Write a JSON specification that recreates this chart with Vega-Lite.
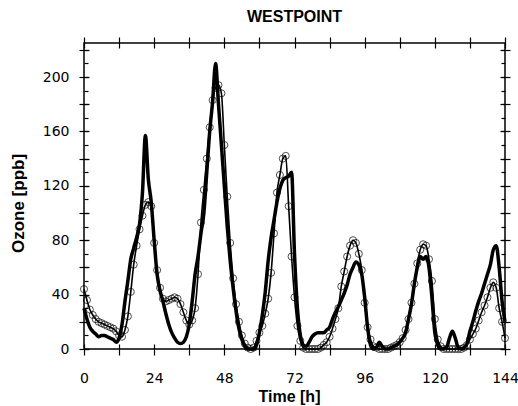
{
  "$schema": "https://vega.github.io/schema/vega-lite/v6.json",
  "width": 421,
  "height": 306,
  "autosize": {"type": "none"},
  "padding": {"left": 84, "top": 43, "right": 13, "bottom": 57},
  "background": "white",
  "title": {"text": "WESTPOINT", "font": "Liberation Sans", "fontSize": 16, "fontWeight": "bold", "anchor": "middle", "offset": 11, "color": "black"},
  "config": {
    "view": {"stroke": "black", "strokeWidth": 1.5},
    "axis": {"domain": false, "grid": false, "tickColor": "black", "tickWidth": 1.2, "labelFont": "DejaVu Sans", "labelFontSize": 14, "labelColor": "black", "labelFlush": false, "labelOverlap": false, "titleFont": "Liberation Sans", "titleFontWeight": "bold", "titleFontSize": 17, "titleColor": "black"}
  },
  "data": {"values": [
    {"t":0,"obs":44,"model":30},{"t":1,"obs":36,"model":22},{"t":2,"obs":29,"model":16},{"t":3,"obs":25,"model":13},{"t":4,"obs":22,"model":11},{"t":5,"obs":20,"model":9},{"t":6,"obs":19,"model":10},{"t":7,"obs":18,"model":10},{"t":8,"obs":17,"model":9},{"t":9,"obs":16,"model":8},{"t":10,"obs":15,"model":7},{"t":11,"obs":13,"model":5},{"t":12,"obs":10,"model":8},{"t":13,"obs":9,"model":18},{"t":14,"obs":14,"model":35},{"t":15,"obs":24,"model":50},{"t":16,"obs":42,"model":66},{"t":17,"obs":62,"model":74},{"t":18,"obs":76,"model":82},{"t":19,"obs":88,"model":92},{"t":20,"obs":98,"model":115},{"t":21,"obs":106,"model":157},{"t":22,"obs":108,"model":125},{"t":23,"obs":105,"model":108},{"t":24,"obs":78,"model":80},
    {"t":25,"obs":58,"model":55},{"t":26,"obs":45,"model":43},{"t":27,"obs":37,"model":35},{"t":28,"obs":35,"model":26},{"t":29,"obs":36,"model":18},{"t":30,"obs":37,"model":12},{"t":31,"obs":38,"model":8},{"t":32,"obs":37,"model":5},{"t":33,"obs":33,"model":4},{"t":34,"obs":27,"model":5},{"t":35,"obs":21,"model":9},{"t":36,"obs":18,"model":18},{"t":37,"obs":21,"model":35},{"t":38,"obs":30,"model":55},{"t":39,"obs":55,"model":68},{"t":40,"obs":93,"model":85},{"t":41,"obs":117,"model":100},{"t":42,"obs":140,"model":130},{"t":43,"obs":163,"model":160},{"t":44,"obs":183,"model":182},{"t":45,"obs":192,"model":210},{"t":46,"obs":194,"model":180},{"t":47,"obs":188,"model":150},{"t":48,"obs":150,"model":120},
    {"t":49,"obs":112,"model":90},{"t":50,"obs":78,"model":65},{"t":51,"obs":52,"model":45},{"t":52,"obs":33,"model":28},{"t":53,"obs":20,"model":15},{"t":54,"obs":10,"model":7},{"t":55,"obs":4,"model":2},{"t":56,"obs":1,"model":0},{"t":57,"obs":0,"model":0},{"t":58,"obs":1,"model":0},{"t":59,"obs":6,"model":3},{"t":60,"obs":12,"model":12},{"t":61,"obs":17,"model":25},{"t":62,"obs":26,"model":42},{"t":63,"obs":37,"model":65},{"t":64,"obs":56,"model":82},{"t":65,"obs":85,"model":95},{"t":66,"obs":115,"model":108},{"t":67,"obs":128,"model":118},{"t":68,"obs":140,"model":124},{"t":69,"obs":142,"model":126},{"t":70,"obs":105,"model":127},{"t":71,"obs":68,"model":130},{"t":72,"obs":38,"model":70},
    {"t":73,"obs":17,"model":30},{"t":74,"obs":6,"model":10},{"t":75,"obs":1,"model":3},{"t":76,"obs":0,"model":2},{"t":77,"obs":0,"model":5},{"t":78,"obs":0,"model":9},{"t":79,"obs":0,"model":11},{"t":80,"obs":0,"model":12},{"t":81,"obs":1,"model":12},{"t":82,"obs":3,"model":12},{"t":83,"obs":5,"model":14},{"t":84,"obs":9,"model":16},{"t":85,"obs":15,"model":22},{"t":86,"obs":22,"model":27},{"t":87,"obs":30,"model":31},{"t":88,"obs":46,"model":36},{"t":89,"obs":57,"model":41},{"t":90,"obs":68,"model":47},{"t":91,"obs":76,"model":55},{"t":92,"obs":80,"model":60},{"t":93,"obs":78,"model":64},{"t":94,"obs":70,"model":62},{"t":95,"obs":58,"model":55},{"t":96,"obs":34,"model":38},
    {"t":97,"obs":16,"model":16},{"t":98,"obs":7,"model":3},{"t":99,"obs":2,"model":0},{"t":100,"obs":1,"model":1},{"t":101,"obs":0,"model":5},{"t":102,"obs":0,"model":2},{"t":103,"obs":0,"model":0},{"t":104,"obs":0,"model":0},{"t":105,"obs":1,"model":1},{"t":106,"obs":2,"model":2},{"t":107,"obs":3,"model":3},{"t":108,"obs":5,"model":5},{"t":109,"obs":8,"model":8},{"t":110,"obs":14,"model":12},{"t":111,"obs":22,"model":22},{"t":112,"obs":34,"model":33},{"t":113,"obs":48,"model":48},{"t":114,"obs":63,"model":60},{"t":115,"obs":73,"model":68},{"t":116,"obs":77,"model":66},{"t":117,"obs":76,"model":68},{"t":118,"obs":66,"model":60},{"t":119,"obs":50,"model":38},{"t":120,"obs":22,"model":12},
    {"t":121,"obs":7,"model":3},{"t":122,"obs":2,"model":0},{"t":123,"obs":0,"model":0},{"t":124,"obs":0,"model":1},{"t":125,"obs":0,"model":8},{"t":126,"obs":0,"model":13},{"t":127,"obs":0,"model":8},{"t":128,"obs":0,"model":1},{"t":129,"obs":0,"model":0},{"t":130,"obs":1,"model":1},{"t":131,"obs":3,"model":4},{"t":132,"obs":7,"model":13},{"t":133,"obs":11,"model":20},{"t":134,"obs":15,"model":28},{"t":135,"obs":21,"model":35},{"t":136,"obs":27,"model":41},{"t":137,"obs":32,"model":48},{"t":138,"obs":38,"model":55},{"t":139,"obs":45,"model":62},{"t":140,"obs":49,"model":73},{"t":141,"obs":45,"model":76},{"t":142,"obs":30,"model":60},{"t":143,"obs":20,"model":35},{"t":144,"obs":8,"model":20}
  ]},
  "resolve": {"axis": {"x": "independent", "y": "independent"}},
  "layer": [
    {
      "mark": {"type": "line", "stroke": "black", "strokeWidth": 3.5, "interpolate": "monotone"},
      "encoding": {
        "x": {"field": "t", "type": "quantitative", "scale": {"domain": [0, 144], "nice": false},
          "axis": {"orient": "bottom", "values": [0,12,24,36,48,60,72,84,96,108,120,132,144], "labelExpr": "datum.value % 24 == 0 ? datum.label : ''", "tickSize": 11, "offset": -5, "labelPadding": 16, "title": "Time [h]", "titleFontSize": 16, "titleX": 205, "titleY": 52, "titleBaseline": "middle"}},
        "y": {"field": "model", "type": "quantitative", "scale": {"domain": [0, 225], "nice": false},
          "axis": {"orient": "left", "values": [0,20,40,60,80,100,120,140,160,180,200,220], "labelExpr": "datum.value % 40 == 0 ? datum.label : ''", "tickSize": 10, "offset": -5, "labelPadding": 10, "title": "Ozone [ppb]", "titleX": -71, "titleY": 160, "titleAngle": 270, "titleBaseline": "middle", "titleAlign": "center"}}
      }
    },
    {
      "mark": {"type": "line", "stroke": "black", "strokeWidth": 1.6, "interpolate": "monotone"},
      "encoding": {
        "x": {"field": "t", "type": "quantitative", "scale": {"domain": [0, 144], "nice": false},
          "axis": {"orient": "top", "values": [0,12,24,36,48,60,72,84,96,108,120,132,144], "labels": false, "tickSize": 11, "offset": -5, "title": null}},
        "y": {"field": "obs", "type": "quantitative", "scale": {"domain": [0, 225], "nice": false},
          "axis": {"orient": "left", "values": [0,10,20,30,40,50,60,70,80,90,100,110,120,130,140,150,160,170,180,190,200,210,220], "labels": false, "tickSize": 4, "offset": -4, "title": null}}
      }
    },
    {
      "mark": {"type": "point", "shape": "circle", "filled": false, "stroke": "black", "strokeWidth": 1, "size": 50},
      "encoding": {
        "x": {"field": "t", "type": "quantitative", "scale": {"domain": [0, 144], "nice": false}, "axis": null},
        "y": {"field": "obs", "type": "quantitative", "scale": {"domain": [0, 225], "nice": false},
          "axis": {"orient": "right", "values": [0,20,40,60,80,100,120,140,160,180,200,220], "labels": false, "tickSize": 10, "offset": -5, "title": null}}
      }
    },
    {
      "mark": {"type": "point", "opacity": 0},
      "encoding": {
        "x": {"field": "t", "type": "quantitative", "scale": {"domain": [0, 144], "nice": false}, "axis": null},
        "y": {"field": "obs", "type": "quantitative", "scale": {"domain": [0, 225], "nice": false},
          "axis": {"orient": "right", "values": [0,10,20,30,40,50,60,70,80,90,100,110,120,130,140,150,160,170,180,190,200,210,220], "labels": false, "tickSize": 4, "offset": -4, "title": null}}
      }
    }
  ]
}
